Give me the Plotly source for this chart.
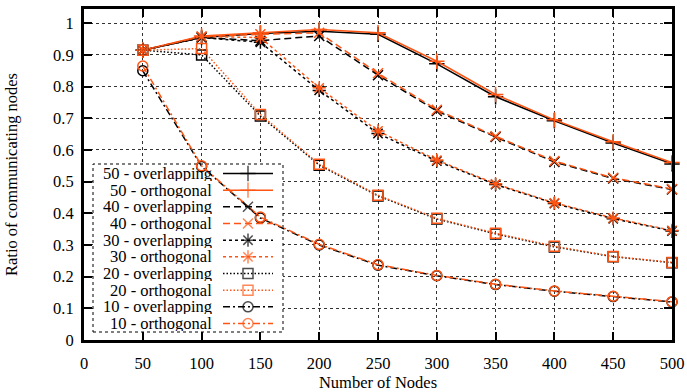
import plotly.graph_objects as go

# ---------------- data ----------------
nodes = [50, 100, 150, 200, 250, 300, 350, 400, 450, 500]

s50_overlap = [0.915, 0.955, 0.968, 0.975, 0.965, 0.872, 0.768, 0.692, 0.622, 0.556]
s50_orth    = [0.915, 0.960, 0.970, 0.980, 0.970, 0.880, 0.775, 0.695, 0.626, 0.560]
s40_overlap = [0.915, 0.955, 0.945, 0.960, 0.836, 0.723, 0.641, 0.562, 0.510, 0.475]
s40_orth    = [0.915, 0.958, 0.965, 0.970, 0.842, 0.727, 0.643, 0.565, 0.512, 0.477]
s30_overlap = [0.915, 0.955, 0.940, 0.788, 0.652, 0.565, 0.491, 0.431, 0.383, 0.344]
s30_orth    = [0.915, 0.958, 0.955, 0.796, 0.660, 0.568, 0.493, 0.433, 0.385, 0.346]
s20_overlap = [0.915, 0.900, 0.707, 0.552, 0.455, 0.382, 0.335, 0.294, 0.263, 0.244]
s20_orth    = [0.915, 0.920, 0.712, 0.555, 0.457, 0.384, 0.337, 0.296, 0.264, 0.245]
s10_overlap = [0.850, 0.548, 0.385, 0.300, 0.236, 0.203, 0.175, 0.154, 0.137, 0.120]
s10_orth    = [0.865, 0.550, 0.388, 0.302, 0.238, 0.204, 0.176, 0.155, 0.138, 0.121]

labels = ["50 - overlapping", "50 - orthogonal",
          "40 - overlapping", "40 - orthogonal",
          "30 - overlapping", "30 - orthogonal",
          "20 - overlapping", "20 - orthogonal",
          "10 - overlapping", "10 - orthogonal"]
series = [s50_overlap, s50_orth, s40_overlap, s40_orth, s30_overlap,
          s30_orth, s20_overlap, s20_orth, s10_overlap, s10_orth]

x_ticks = [0, 50, 100, 150, 200, 250, 300, 350, 400, 450, 500]
y_ticks = [0, 0.1, 0.2, 0.3, 0.4, 0.5, 0.6, 0.7, 0.8, 0.9, 1]
y_tick_text = ["0", "0.1", "0.2", "0.3", "0.4", "0.5", "0.6", "0.7", "0.8", "0.9", "1"]

# ---------------- styles ----------------
BLACK = "#000000"
ORANGE = "#ff5514"
colors = [BLACK, ORANGE] * 5
symbols = ["cross-thin-open"] * 2 + ["x-thin-open"] * 2 + ["asterisk-open"] * 2 + \
          ["square-open"] * 2 + ["circle-open"] * 2
dashes = ["solid"] * 2 + ["7px,4px"] * 2 + ["3px,3px"] * 2 + ["1.5px,2px"] * 2 + \
         ["7px,3px,2px,3px"] * 2
sizes = [11, 11, 10, 10, 11, 11, 10, 10, 10, 10]

FONT = "Liberation Serif"
FS = 16.5
W, H = 687, 392
ML, MR, MT, MB = 84, 15, 9, 52
XMAX, YMAX = 500, 1.045
PW, PH = W - ML - MR, H - MT - MB


def px2x(px):
    return (px - ML) / PW * XMAX


def px2y(py):
    return (H - MB - py) / PH * YMAX


fig = go.Figure()

for i, (lab, ys) in enumerate(zip(labels, series)):
    fig.add_trace(go.Scatter(
        x=nodes, y=ys, name=lab, mode="lines+markers",
        line=dict(color=colors[i], width=1.5, dash=dashes[i]),
        marker=dict(symbol=symbols[i], size=sizes[i], color=colors[i],
                    line=dict(color=colors[i], width=1.5)),
        showlegend=False, cliponaxis=False,
    ))

# ---------------- custom gnuplot-style key ----------------
key_left, key_right, key_top, key_bottom = 93, 283, 164, 332
row0, row_h = 173.5, 16.67
text_right = 213
samp_l, samp_r = 223, 273

fig.add_shape(type="rect", xref="x", yref="y", layer="between",
              x0=px2x(key_left), x1=px2x(key_right),
              y0=px2y(key_bottom), y1=px2y(key_top),
              fillcolor="white", line=dict(color="black", width=1, dash="dot"))

for i, lab in enumerate(labels):
    yy = px2y(row0 + i * row_h)
    fig.add_annotation(x=px2x(text_right), y=yy, xref="x", yref="y",
                       text=lab, showarrow=False, xanchor="right", yanchor="middle",
                       height=15, borderpad=0,
                       font=dict(family=FONT, size=FS, color="black"))
    fig.add_trace(go.Scatter(
        x=[px2x(samp_l), px2x((samp_l + samp_r) / 2), px2x(samp_r)],
        y=[yy, yy, yy], mode="lines+markers", hoverinfo="skip",
        line=dict(color=colors[i], width=1.5, dash=dashes[i]),
        marker=dict(symbol=[symbols[i]] * 3, size=[0, sizes[i], 0], color=colors[i],
                    line=dict(color=colors[i], width=1.5)),
        showlegend=False, cliponaxis=False,
    ))

axis_common = dict(
    showline=True, linecolor="black", linewidth=3, mirror="ticks",
    ticks="inside", ticklen=8, tickwidth=2, tickcolor="black",
    showgrid=True, gridcolor="#333333", gridwidth=1, griddash="dot",
    zeroline=False, automargin=False,
    tickfont=dict(family=FONT, size=FS, color="black"),
)

fig.update_xaxes(range=[0, XMAX], tickvals=x_ticks,
                 ticktext=[str(v) for v in x_ticks],
                 ticklabelstandoff=6,
                 title=dict(text="Number of Nodes", font=dict(family=FONT, size=FS, color="black"),
                            standoff=12),
                 **axis_common)
fig.update_yaxes(range=[0, YMAX], tickvals=y_ticks, ticktext=y_tick_text,
                 ticklabelstandoff=4,
                 title=dict(text="Ratio of communicating nodes",
                            font=dict(family=FONT, size=FS, color="black"), standoff=32),
                 **axis_common)

fig.update_layout(
    width=W, height=H,
    margin=dict(l=ML, r=MR, t=MT, b=MB),
    plot_bgcolor="white", paper_bgcolor="white",
    showlegend=False,
    font=dict(family=FONT, size=FS, color="black"),
)

fig.write_html("out.html")
